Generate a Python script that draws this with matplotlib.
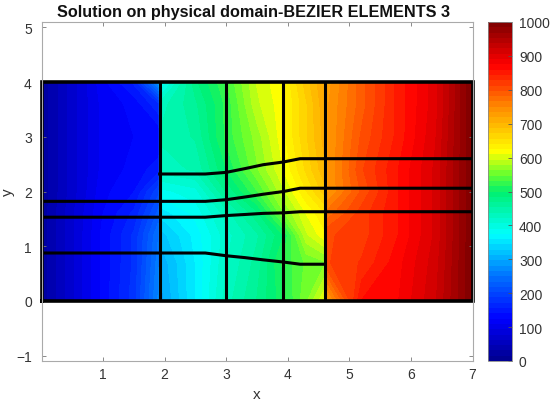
import numpy as np
import matplotlib
matplotlib.use("Agg")
import matplotlib.pyplot as plt
from matplotlib.colors import LinearSegmentedColormap

plt.rcParams['font.family'] = ['Liberation Sans', 'DejaVu Sans']

# nodes of the field, doubled at the two jumps (x=1.92 and x=4.61)
x_nodes = [0, 0.5, 1, 1.5, 1.905, 1.935, 2.5, 3, 3.5, 3.93, 4.3, 4.6, 4.625, 5.2, 5.8, 6.4, 7]
y_nodes = [0, 0.7, 1.2, 1.6, 2, 2.4, 3, 3.6, 4]

temp_y00 = [20, 75, 130, 180, 270, 290, 360, 430, 470, 510, 560, 610, 720, 860, 875, 920, 1000]
temp_y07 = [20, 75, 130, 175, 260, 300, 360, 420, 460, 520, 550, 560, 810, 830, 870, 915, 1000]
temp_y12 = [20, 75, 130, 175, 250, 320, 365, 415, 450, 500, 590, 620, 810, 820, 860, 910, 1000]
temp_y16 = [20, 75, 125, 160, 225, 350, 380, 430, 480, 560, 610, 640, 770, 820, 860, 910, 1000]
temp_y20 = [20, 70, 120, 140, 200, 385, 400, 470, 530, 590, 640, 680, 730, 800, 860, 910, 1000]
temp_y24 = [20, 70, 115, 130, 150, 430, 440, 500, 560, 610, 660, 700, 730, 810, 860, 910, 1000]
temp_y30 = [20, 70, 115, 125, 125, 440, 455, 520, 570, 620, 670, 710, 730, 800, 850, 905, 1000]
temp_y36 = [20, 70, 115, 130, 170, 430, 465, 520, 590, 620, 670, 715, 730, 790, 850, 900, 1000]
temp_y40 = [20, 70, 120, 160, 280, 370, 480, 530, 595, 625, 680, 720, 725, 790, 850, 900, 1000]

# element edges
v_lines = [1.92, 3.0, 3.93, 4.61]
curve_x = [2.66, 3.0, 3.31, 3.6, 3.93, 4.2]
h1_y = [0.875, 0.825, 0.79, 0.75, 0.71, 0.67]
h2_y = [1.53, 1.56, 1.58, 1.60, 1.61, 1.63]
h3_y = [1.82, 1.85, 1.90, 1.95, 2.00, 2.06]
h4_y = [2.32, 2.35, 2.42, 2.49, 2.54, 2.60]

x_ticks = [1, 2, 3, 4, 5, 6, 7]
y_ticks = [-1, 0, 1, 2, 3, 4, 5]
c_ticks = [0, 100, 200, 300, 400, 500, 600, 700, 800, 900, 1000]

# colour bar as seen in the picture, a more saturated jet
cmap_stops = [(0.0, '#00008c'), (0.125, '#0000ff'), (0.25, '#0070ff'), (0.375, '#00ffff'),
              (0.5, '#00f070'), (0.55, '#60ff30'), (0.62, '#ffff00'), (0.75, '#ff8c00'),
              (0.875, '#ff0000'), (1.0, '#800000')]
sat_jet = LinearSegmentedColormap.from_list('sat_jet', cmap_stops, N=256)

W, H = 550, 406
text_col = '#333333'
fig = plt.figure(figsize=(W / 100, H / 100), dpi=100)
ax = fig.add_axes([41.5 / W, 1 - 362 / H, 431 / W, 339 / H])
cax = fig.add_axes([488 / W, 1 - 362 / H, 24 / W, 339 / H])

temp = np.array([temp_y00, temp_y07, temp_y12, temp_y16, temp_y20,
                 temp_y24, temp_y30, temp_y36, temp_y40])
levels = np.linspace(0, 1000, 65)
cs = ax.contourf(x_nodes, y_nodes, temp, levels=levels, cmap=sat_jet, vmin=0, vmax=1000)

lw = 2.2
for x in v_lines:
  ax.plot([x, x], [0, 4], color='k', lw=lw, solid_capstyle='butt')
ax.plot([0, 7, 7, 0, 0], [0, 0, 4, 4, 0], color='k', lw=lw + 0.4, solid_joinstyle='miter', clip_on=False)
ax.plot([0] + curve_x + [4.61], [h1_y[0]] + h1_y + [h1_y[-1]], color='k', lw=lw)
ax.plot([0] + curve_x + [7], [h2_y[0]] + h2_y + [h2_y[-1]], color='k', lw=lw)
ax.plot([0] + curve_x + [7], [h3_y[0]] + h3_y + [h3_y[-1]], color='k', lw=lw)
ax.plot([1.92] + curve_x + [7], [h4_y[0]] + h4_y + [h4_y[-1]], color='k', lw=lw)

ax.set_xlim(0, 7)
ax.set_ylim(-1.1, 5.1)
ax.set_xticks(x_ticks)
ax.set_yticks(y_ticks)
ax.tick_params(direction='in', length=3, width=0.6, color='#777777', labelsize=10,
               labelcolor=text_col, top=True, right=True)
ax.tick_params(axis='x', pad=4)
ax.tick_params(axis='y', pad=7)
for s in ax.spines.values():
  s.set_color('#aaaaaa')
  s.set_linewidth(0.8)
ax.set_xlabel("x", fontsize=11, color=text_col, labelpad=5)
ax.set_ylabel("y", fontsize=11, color=text_col, labelpad=1)
ax.set_title("Solution on physical domain-BEZIER ELEMENTS 3", fontsize=11.7, fontweight='bold',
             color='#111111', pad=4, x=0.493)

cb = fig.colorbar(cs, cax=cax, ticks=c_ticks, drawedges=False)
cb.outline.set_edgecolor('#888888')
cb.outline.set_linewidth(0.6)
cax.tick_params(direction='in', length=3, width=0.6, color='#555555', labelsize=10,
                labelcolor=text_col, pad=5)

fig.savefig("out.png", dpi=100)
